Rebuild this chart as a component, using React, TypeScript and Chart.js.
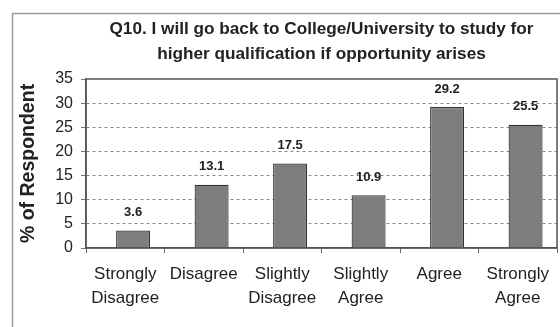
import React, { useEffect, useRef } from "react";
import { Chart, registerables } from "chart.js";

Chart.register(...registerables);

const titleLines = [
  "Q10. I will go back to College/University to study for",
  "higher qualification if opportunity arises",
];
const categories = [
  ["Strongly", "Disagree"],
  ["Disagree"],
  ["Slightly", "Disagree"],
  ["Slightly", "Agree"],
  ["Agree"],
  ["Strongly", "Agree"],
];
const values = [3.6, 13.1, 17.5, 10.9, 29.2, 25.5];
const yAxisTitle = "% of Respondent";

const FONT = "'Liberation Sans', Arial, sans-serif";

export default function App() {
  const ref = useRef<HTMLCanvasElement | null>(null);
  useEffect(() => {
    if (!ref.current) return;
    const framePlugin = {
      id: "frame",
      beforeDraw(chart: any) {
        const ctx = chart.ctx;
        ctx.save();
        ctx.fillStyle = "#ffffff";
        ctx.fillRect(0, 0, chart.width, chart.height);
        ctx.strokeStyle = "#9a9a9a";
        ctx.lineWidth = 1.5;
        ctx.strokeRect(12.5, 13.5, chart.width + 10, chart.height - 8);
        ctx.fillStyle = "#222";
        ctx.font = `bold 17.2px ${FONT}`;
        ctx.textAlign = "center";
        ctx.textBaseline = "middle";
        const cx = (chart.chartArea.left + chart.chartArea.right) / 2;
        ctx.fillText(titleLines[0], cx, 29);
        ctx.fillText(titleLines[1], cx, 54);
        ctx.restore();
      },
      afterDatasetsDraw(chart: any) {
        const ctx = chart.ctx;
        const a = chart.chartArea;
        ctx.save();
        ctx.strokeStyle = "#555";
        ctx.lineWidth = 1.5;
        ctx.strokeRect(a.left, a.top, a.right - a.left, a.bottom - a.top);
        ctx.fillStyle = "#222";
        ctx.font = `bold 13px ${FONT}`;
        ctx.textAlign = "center";
        ctx.textBaseline = "middle";
        const meta = chart.getDatasetMeta(0);
        meta.data.forEach((bar: any, i: number) => {
          ctx.fillText(values[i].toFixed(1), bar.x, bar.y - 18);
        });
        ctx.restore();
      },
    };
    const chart = new Chart(ref.current, {
      type: "bar",
      data: {
        labels: categories,
        datasets: [
          {
            data: values.map((v, i) => ({ x: i, y: v })),
            xAxisID: "xb",
            backgroundColor: "#7d7d7d",
            borderColor: "#333",
            borderWidth: 1.2,
            barPercentage: 0.433,
            categoryPercentage: 1,
          },
        ],
      },
      options: {
        animation: false,
        responsive: false,
        maintainAspectRatio: false,
        layout: { padding: { top: 79, left: 0, right: 3, bottom: 0 } },
        plugins: { legend: { display: false }, tooltip: { enabled: false } },
        scales: {
          xb: {
            type: "linear",
            display: false,
            min: -0.6,
            max: 5.4,
            offset: false,
            ticks: { stepSize: 1, includeBounds: false },
          },
          x: {
            type: "category",
            afterFit(scale: any) {
              scale.height = 79;
            },
            grid: {
              offset: true,
              drawOnChartArea: false,
              tickLength: 5,
              color: "#666",
            },
            border: { display: true, color: "#555", width: 1.5 },
            ticks: {
              color: "#222",
              font: { family: FONT, size: 17, lineHeight: 1.41 },
              padding: 9,
              maxRotation: 0,
              autoSkip: false,
            },
          },
          y: {
            min: 0,
            max: 35,
            afterFit(scale: any) {
              scale.width = 86;
            },
            ticks: {
              stepSize: 5,
              color: "#222",
              font: { family: FONT, size: 16 },
              padding: 8,
            },
            grid: {
              color: (c: any) => (c.tick && (c.tick.value === 0 || c.tick.value === 35) ? "rgba(0,0,0,0)" : "#8a8a8a"),
              tickColor: "#777",
              tickLength: 5,
              tickBorderDash: [],
              lineWidth: 1,
            },
            border: { display: true, color: "#555", width: 1.5, dash: [3, 3] },
            title: {
              display: true,
              text: yAxisTitle,
              color: "#222",
              font: { family: FONT, size: 19.5, weight: "bold" },
              padding: { top: 17, bottom: 0 },
            },
          },
        },
      },
      plugins: [framePlugin],
    } as any);
    return () => chart.destroy();
  }, []);
  return (
    <div style={{ position: "absolute", left: 0, top: 0 }}>
      <canvas ref={ref} width={560} height={327} style={{ display: "block" }} />
    </div>
  );
}
